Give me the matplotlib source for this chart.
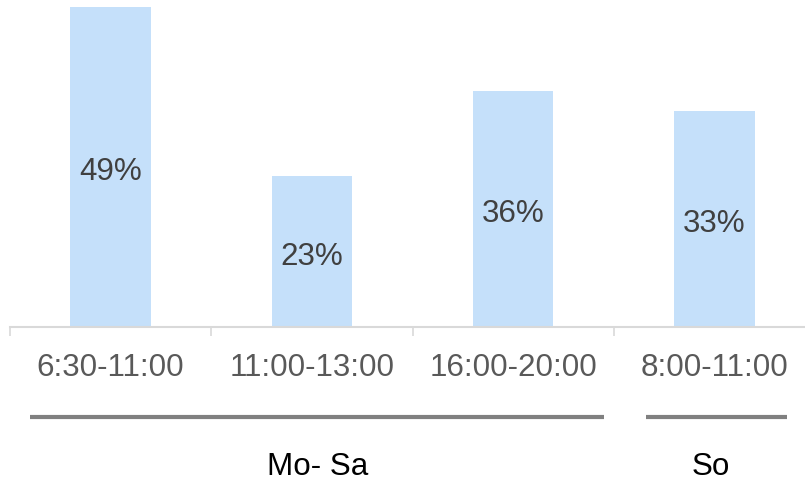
import matplotlib
matplotlib.use("Agg")
import matplotlib.pyplot as plt
from matplotlib.transforms import blended_transform_factory

# Anteil je Zeitfenster
slots = ["6:30-11:00", "11:00-13:00", "16:00-20:00", "8:00-11:00"]
shares = [49, 23, 36, 33]
groups = ["Mo- Sa", "So"]
group_span = [(-0.40, 2.45), (2.66, 3.36)]
group_center = [1.03, 2.98]

plt.rcParams["font.family"] = ["Liberation Sans", "DejaVu Sans"]
FS = 22.6

W, H = 805, 481
fig = plt.figure(figsize=(W / 100, H / 100), dpi=100, facecolor="white")
base = 327.5
ax = fig.add_axes([10 / W, (H - base) / H, 805 / W, 326.5 / H])

x = range(len(slots))
ax.bar(x, shares, width=0.4, color="#c5e0fa", zorder=2)
for xi, v in zip(x, shares):
    ax.text(xi, v / 2 - 0.65, f"{v}%", ha="center", va="center", fontsize=FS, color="#404040")

ax.set_xlim(-0.5, 3.5)
ax.set_ylim(0, 50)
ax.set_yticks([])
ax.set_xticks([-0.5, 0.5, 1.5, 2.5, 3.5])
ax.set_xticklabels([])
ax.tick_params(axis="x", length=6.5, width=1.2, color="#d9d9d9", direction="out")
for s in ("top", "right", "left"):
    ax.spines[s].set_visible(False)
ax.spines["bottom"].set_color("#d9d9d9")
ax.spines["bottom"].set_linewidth(1.5)

tr = blended_transform_factory(ax.transData, fig.transFigure)
for xi, lab in zip(x, slots):
    ax.text(xi, 1 - 368 / H, lab, ha="center", va="center", fontsize=FS,
            color="#595959", transform=tr, clip_on=False)

for (x0, x1), xc, g in zip(group_span, group_center, groups):
    ax.plot([x0, x1], [1 - 417.5 / H] * 2, color="#808080", lw=3, transform=tr,
            clip_on=False, solid_capstyle="butt")
    ax.text(xc, 1 - 467 / H, g, ha="center", va="center", fontsize=FS,
            color="#000000", transform=tr, clip_on=False)

fig.savefig("out.png", dpi=100, facecolor="white")
